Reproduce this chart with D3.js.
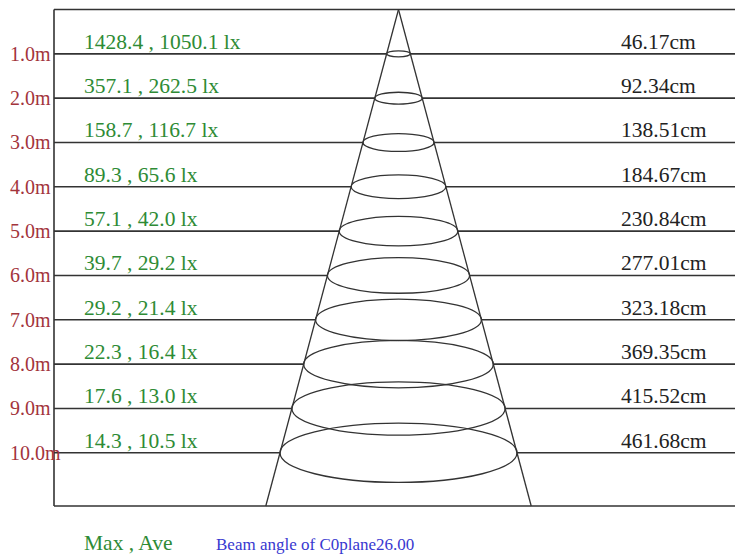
<!DOCTYPE html>
<html>
<head>
<meta charset="utf-8">
<script src="https://cdn.jsdelivr.net/npm/d3@7"></script>
<style>
html,body{margin:0;padding:0;background:#fff;}
svg{display:block;font-family:"Liberation Serif","Times New Roman",serif;}
</style>
</head>
<body>
<svg id="chart" width="735" height="556"></svg>
<script>
// ---- data ----
const distances = [1, 2, 3, 4, 5, 6, 7, 8, 9, 10];
const distanceLabels = ["1.0m","2.0m","3.0m","4.0m","5.0m","6.0m","7.0m","8.0m","9.0m","10.0m"];
const maxLux = ["1428.4","357.1","158.7","89.3","57.1","39.7","29.2","22.3","17.6","14.3"];
const aveLux = ["1050.1","262.5","116.7","65.6","42.0","29.2","21.4","16.4","13.0","10.5"];
const diameters = [46.17, 92.34, 138.51, 184.67, 230.84, 277.01, 323.18, 369.35, 415.52, 461.68];
const legendText = "Max , Ave";
const beamText = "Beam angle of C0plane26.00";
const maxDistance = 11.2;

// ---- layout ----
const svg = d3.select("#chart");
const left = 54, right = 735, cx = 398.5;
const y = d3.scaleLinear().domain([0, maxDistance]).range([9.5, 506]);
const r = d3.scaleLinear().domain([0, 230.84]).range([0, 118.5]); // radius cm -> px
const lineColor = "#333";
const green = "#2e8b35", red = "#a3343c", blue = "#3838d0";

const radiusPerM = diameters[diameters.length - 1] / 2 / distances[distances.length - 1];
const coneR = d => r(radiusPerM * d);

// frame
svg.append("line").attr("x1", left).attr("x2", right).attr("y1", y(0)).attr("y2", y(0))
  .attr("stroke", lineColor).attr("stroke-width", 1.6);
svg.append("line").attr("x1", left).attr("x2", right).attr("y1", y(maxDistance)).attr("y2", y(maxDistance))
  .attr("stroke", lineColor).attr("stroke-width", 1.6);
svg.append("line").attr("x1", left).attr("x2", left).attr("y1", y(0)).attr("y2", y(maxDistance))
  .attr("stroke", lineColor).attr("stroke-width", 1.6);

// horizontal distance lines, broken at cone edges
distances.forEach((d, i) => {
  const rx = r(diameters[i] / 2);
  svg.append("line").attr("x1", left).attr("x2", cx - rx).attr("y1", y(d)).attr("y2", y(d))
    .attr("stroke", lineColor).attr("stroke-width", 1.6);
  svg.append("line").attr("x1", cx + rx).attr("x2", right).attr("y1", y(d)).attr("y2", y(d))
    .attr("stroke", lineColor).attr("stroke-width", 1.6);
});

// cone edges
[-1, 1].forEach(s => {
  svg.append("line").attr("x1", cx).attr("y1", y(0))
    .attr("x2", cx + s * coneR(maxDistance)).attr("y2", y(maxDistance))
    .attr("stroke", lineColor).attr("stroke-width", 1.3);
});

// ellipses
svg.selectAll("ellipse.spot").data(distances).join("ellipse")
  .attr("class", "spot")
  .attr("cx", cx)
  .attr("cy", d => y(d))
  .attr("rx", (d, i) => r(diameters[i] / 2))
  .attr("ry", (d, i) => r(diameters[i] / 2) * 0.25)
  .attr("fill", "none").attr("stroke", lineColor).attr("stroke-width", 1.3);

// distance labels
svg.selectAll("text.dist").data(distances).join("text")
  .attr("class", "dist")
  .attr("x", 10).attr("y", d => y(d) + 7)
  .attr("fill", red).attr("font-size", 20)
  .text((d, i) => distanceLabels[i]);

// lux labels
svg.selectAll("text.lux").data(distances).join("text")
  .attr("class", "lux")
  .attr("x", 84).attr("y", d => y(d) - 5)
  .attr("fill", green).attr("font-size", 21.5)
  .text((d, i) => maxLux[i] + " , " + aveLux[i] + " lx");

// diameter labels
svg.selectAll("text.diam").data(distances).join("text")
  .attr("class", "diam")
  .attr("x", 621).attr("y", d => y(d) - 5)
  .attr("fill", "#222").attr("font-size", 21.5)
  .text((d, i) => diameters[i].toFixed(2) + "cm");

// legend
svg.append("text").attr("x", 84).attr("y", 550).attr("fill", green).attr("font-size", 21.5).text(legendText);
svg.append("text").attr("x", 216).attr("y", 550).attr("fill", blue).attr("font-size", 17).text(beamText);
</script>
</body>
</html>
